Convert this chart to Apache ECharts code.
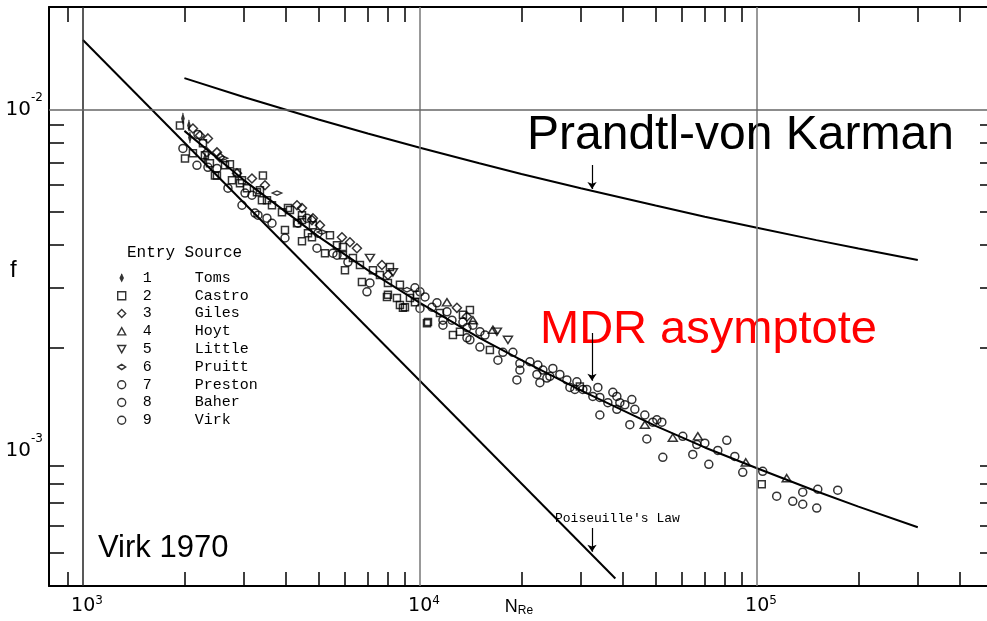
<!DOCTYPE html>
<html>
<head>
<meta charset="utf-8">
<script src="https://cdn.jsdelivr.net/npm/echarts@6/dist/echarts.min.js"></script>
<style>
html, body { margin: 0; padding: 0; background: #fff; }
#chart { width: 987px; height: 621px; }
</style>
</head>
<body>
<div id="chart"></div>
<script>
// ---- axis ticks (Reynolds number and friction factor, both logarithmic) ----
const xMajorTicks = [1000, 10000, 100000];
const xMinorTicks = [900, 2000, 3000, 4000, 5000, 6000, 7000, 8000, 9000,
  20000, 30000, 40000, 50000, 60000, 70000, 80000, 90000, 200000, 300000, 400000];
const yMajorTicks = [0.01, 0.001];
const yMinorTicks = [0.009, 0.008, 0.007, 0.006, 0.005, 0.004, 0.003, 0.002,
  0.0009, 0.0008, 0.0007, 0.0006, 0.0005];

// ---- reference curves ----
const poiseuilleRe = [1000, 38000];
const poiseuilleF = [0.016, 0.000421];
const mdrRe = [2000, 3000, 5000, 7000, 10000, 15000, 20000, 30000, 50000, 70000, 100000, 150000, 200000, 300000];
const mdrF = [0.00866, 0.00621, 0.00424, 0.00338, 0.00271, 0.00214, 0.00184, 0.0015, 0.00118, 0.00102, 0.000886, 0.000759, 0.000684, 0.000595];
const pvkRe = [2000, 3000, 5000, 7000, 10000, 15000, 20000, 30000, 50000, 70000, 100000, 150000, 200000, 300000];
const pvkF = [0.01237, 0.01089, 0.00935, 0.00851, 0.00773, 0.00696, 0.00647, 0.00588, 0.00523, 0.00485, 0.0045, 0.00414, 0.00391, 0.00362];

// ---- pointer arrows: [Re, f start, f tip] ----
const arrowPvk = [32400, 0.00688, 0.00585];
const arrowMdr = [32400, 0.00221, 0.0016];
const arrowPoiseuille = [32400, 0.000592, 0.000504];

// ---- measured friction factors [Re, f] by source ----
const toms = [[1980, 0.00941], [2063, 0.00898], [2077, 0.00828], [2301, 0.00719]];
const castro = [[1940, 0.00898], [2008, 0.00719], [2381, 0.00696], [2270, 0.00796], [2120, 0.00744], [2639, 0.00686],
  [2730, 0.00691], [2498, 0.00641], [3420, 0.00641], [2924, 0.00608], [3283, 0.00572], [3397, 0.00542], [3638, 0.00524],
  [3895, 0.005], [4058, 0.00514], [4466, 0.00474], [3976, 0.00443], [4466, 0.00411], [4781, 0.00422], [4652, 0.00434],
  [5407, 0.00428], [5226, 0.00379], [5672, 0.004], [5907, 0.00374], [6325, 0.00367], [5990, 0.00338], [6636, 0.0035],
  [7251, 0.00338], [6727, 0.00312], [7607, 0.00327], [8034, 0.0031], [8721, 0.00306], [8034, 0.00286], [8544, 0.0028],
  [8901, 0.00262], [8721, 0.00267], [9663, 0.00272], [10490, 0.00236], [11463, 0.00253], [13411, 0.0025], [9025, 0.00263],
  [10562, 0.00238], [12525, 0.00218], [13140, 0.00223], [16127, 0.00197], [29815, 0.00154], [7980, 0.00282], [103300, 0.000796],
  [2768, 0.0062], [2964, 0.0062], [3066, 0.00588], [3351, 0.0058], [3516, 0.00542], [4114, 0.00507], [4466, 0.0049],
  [4316, 0.00464], [4813, 0.00458], [5907, 0.00395], [8145, 0.00345], [2301, 0.00734], [2464, 0.00641], [2864, 0.00654],
  [14068, 0.00258], [9797, 0.00286], [9338, 0.0028]];
const giles = [[2120, 0.0088], [2349, 0.00823], [2224, 0.00839], [2333, 0.00749], [2498, 0.00749], [2550, 0.00724],
  [2864, 0.0065], [3173, 0.00628], [3468, 0.006], [4316, 0.00524], [4781, 0.00474], [4466, 0.00514], [4813, 0.0048],
  [5050, 0.00458], [5868, 0.00422], [6197, 0.00408], [6501, 0.00392], [7712, 0.0035], [12873, 0.00262], [13784, 0.00247],
  [8034, 0.00327]];
const hoyt = [[12024, 0.00272], [14358, 0.00241], [16459, 0.00226], [46474, 0.00119], [56255, 0.00109], [66750, 0.0011],
  [92620, 0.000922], [122500, 0.000829]];
const little = [[7105, 0.00367], [8313, 0.00333], [16917, 0.00223], [18240, 0.00211]];
const pruitt = [[2603, 0.0072], [3765, 0.00569], [5120, 0.00437], [9148, 0.00296]];
const preston = [[2194, 0.00845], [1980, 0.00769], [2179, 0.00686], [2349, 0.00677], [2693, 0.00588], [3026, 0.00569],
  [2964, 0.00524], [3239, 0.00497], [3515, 0.0048], [3976, 0.0042], [4345, 0.00464], [4947, 0.00392], [4981, 0.00434],
  [5518, 0.00379], [6113, 0.00357], [6961, 0.00292], [7105, 0.0031], [10000, 0.00292], [10348, 0.00282], [10000, 0.00261],
  [11230, 0.00271], [11700, 0.00241], [12441, 0.00241], [11700, 0.00233], [2498, 0.00672], [3173, 0.00561], [3306, 0.0049],
  [3638, 0.00464], [4621, 0.0048], [5672, 0.00374], [13411, 0.00238], [12024, 0.00255], [10854, 0.00263], [9663, 0.003]];
const baher = [[13784, 0.00229], [13784, 0.00214], [14068, 0.00211], [15062, 0.00201], [14358, 0.00233], [17033, 0.00184],
  [17623, 0.00194], [18868, 0.00194], [19793, 0.00172], [19793, 0.0018], [21192, 0.00182], [23160, 0.00172], [23800, 0.00163],
  [24292, 0.00165], [26010, 0.00167], [27280, 0.00161], [19390, 0.00161], [22690, 0.00158], [27850, 0.00153], [28820, 0.00151],
  [30430, 0.00151], [32580, 0.00144], [33720, 0.00153], [34180, 0.00143], [15062, 0.00223], [15590, 0.00218], [22380, 0.00178],
  [24790, 0.00174], [22230, 0.00167], [29210, 0.00159], [31270, 0.00151]];
const virk = [[36100, 0.00138], [38390, 0.00144], [39180, 0.00138], [40540, 0.00136], [42530, 0.00141], [43410, 0.00132],
  [34180, 0.00127], [38390, 0.00132], [46470, 0.00127], [49080, 0.00121], [52200, 0.00121], [41950, 0.00119], [47110, 0.00108],
  [60240, 0.0011], [70020, 0.00105], [66290, 0.00104], [52550, 0.000954], [64490, 0.000973], [71950, 0.00091], [76520, 0.001],
  [81360, 0.00107], [85930, 0.00096], [90730, 0.000862], [104000, 0.000868], [114400, 0.000734], [127700, 0.000709],
  [136700, 0.000695], [136700, 0.000754], [151500, 0.000769], [150400, 0.000677], [173600, 0.000764], [37350, 0.00148],
  [50450, 0.00123]];

const sources = [
  { name: 'Toms', data: toms, symbol: 'path://M5,0L5,16M5,2L8,8L5,14L2,8Z', size: [6.5, 11] },
  { name: 'Castro', data: castro, symbol: 'rect', size: 7 },
  { name: 'Giles', data: giles, symbol: 'diamond', size: 9 },
  { name: 'Hoyt', data: hoyt, symbol: 'path://M5,0L10,9L0,9Z', size: [9, 8] },
  { name: 'Little', data: little, symbol: 'path://M0,0L10,0L5,9Z', size: [9, 8] },
  { name: 'Pruitt', data: pruitt, symbol: 'path://M0,4L6,0L12,4L6,8Z', size: [9.5, 6.5] },
  { name: 'Preston', data: preston, symbol: 'circle', size: 8 },
  { name: 'Baher', data: baher, symbol: 'circle', size: 8 },
  { name: 'Virk', data: virk, symbol: 'circle', size: 8 }
];

const zip = (a, b) => a.map((v, i) => [v, b[i]]);
const FONT = '"Liberation Sans", Arial, sans-serif';
const TICKFONT = '"DejaVu Sans", sans-serif';
const MONO = '"Liberation Mono", "DejaVu Sans Mono", monospace';
const X_MIN = 793, X_MAX = 488000, Y_MIN = 0.0004, Y_MAX = 0.02;

const expLabel = v => '{b|10}{s|' + Math.round(Math.log10(v)) + '}';
const tickStyle = { color: '#000', width: 1.5 };
const xLabelRich = {
  b: { fontSize: 19, fontFamily: TICKFONT, color: '#000', lineHeight: 22 },
  s: { fontSize: 12, fontFamily: TICKFONT, color: '#000', lineHeight: 9, verticalAlign: 'top' }
};
const yLabelRich = {
  b: { fontSize: 20, fontFamily: TICKFONT, color: '#000', lineHeight: 36 },
  s: { fontSize: 12, fontFamily: TICKFONT, color: '#000', lineHeight: 10, verticalAlign: 'top' }
};

const chart = echarts.init(document.getElementById('chart'), null, { renderer: 'canvas' });

const scatterSeries = sources.map(s => ({
  name: s.name,
  type: 'scatter',
  xAxisIndex: 0,
  yAxisIndex: 0,
  symbol: s.symbol,
  symbolSize: s.size,
  symbolKeepAspect: true,
  data: s.data,
  itemStyle: { color: 'rgba(255,255,255,0)', borderColor: '#000', borderWidth: 1.5 },
  emphasis: { disabled: true },
  z: 4
}));

const curve = (name, data) => ({
  name, type: 'line', data, showSymbol: false, symbol: 'none',
  lineStyle: { color: '#000', width: 2 }, emphasis: { disabled: true }, z: 3
});

const pvkSeries = curve('Prandtl-von Karman', zip(pvkRe, pvkF));
pvkSeries.markLine = {
  silent: true, symbol: 'none', label: { show: false }, animation: false,
  data: [
    { xAxis: 1000, lineStyle: { color: '#222', width: 1.5, type: 'solid' } },
    { xAxis: 10000, lineStyle: { color: '#777', width: 1.5, type: 'solid' } },
    { xAxis: 100000, lineStyle: { color: '#777', width: 1.5, type: 'solid' } },
    { yAxis: 0.01, lineStyle: { color: '#666', width: 1.5, type: 'solid' } },
    { yAxis: 0.001, lineStyle: { color: '#666', width: 1.5, type: 'solid' } }
  ]
};

const arrows = [arrowPvk, arrowMdr, arrowPoiseuille].map(a => ({ coords: [[a[0], a[1]], [a[0], a[2]]] }));

chart.setOption({
  animation: false,
  backgroundColor: '#fff',
  grid: { left: 49, right: -2, top: 7, bottom: 35, outerBoundsMode: 'none', containLabel: false },
  xAxis: [
    {
      type: 'log', logBase: 10, min: X_MIN, max: X_MAX, position: 'bottom',
      name: '{n|N}{sub|Re}', nameLocation: 'middle', nameGap: 11, nameMoveOverlap: false,
      nameTextStyle: {
        padding: [0, 0, 0, 0],
        rich: {
          n: { fontSize: 18, fontFamily: FONT, color: '#000', lineHeight: 20 },
          sub: { fontSize: 12, fontFamily: FONT, color: '#000', lineHeight: 10, verticalAlign: 'bottom' }
        }
      },
      axisLine: { show: true, lineStyle: { color: '#000', width: 2 } },
      axisTick: { show: true, inside: true, length: 14, customValues: xMinorTicks, lineStyle: tickStyle },
      axisLabel: { show: true, customValues: xMajorTicks, formatter: expLabel, margin: 9,
        padding: [0, 0, 0, 8], rich: xLabelRich },
      splitLine: { show: false }, minorTick: { show: false }
    },
    {
      type: 'log', logBase: 10, min: X_MIN, max: X_MAX, position: 'top',
      axisLine: { show: true, lineStyle: { color: '#000', width: 2 } },
      axisTick: { show: true, inside: true, length: 15, customValues: xMinorTicks, lineStyle: tickStyle },
      axisLabel: { show: false }, splitLine: { show: false }
    }
  ],
  yAxis: [
    {
      type: 'log', logBase: 10, min: Y_MIN, max: Y_MAX, position: 'left',
      axisLine: { show: true, lineStyle: { color: '#000', width: 2 } },
      axisTick: { show: true, inside: true, length: 15, customValues: yMinorTicks, lineStyle: tickStyle },
      axisLabel: { show: true, customValues: yMajorTicks, formatter: expLabel, margin: 6, rich: yLabelRich },
      splitLine: { show: false }
    },
    {
      type: 'log', logBase: 10, min: Y_MIN, max: Y_MAX, position: 'right',
      axisLine: { show: true, lineStyle: { color: '#000', width: 2 } },
      axisTick: { show: true, inside: true, length: 9, customValues: yMinorTicks, lineStyle: tickStyle },
      axisLabel: { show: false }, splitLine: { show: false }
    }
  ],
  legend: {
    orient: 'vertical', left: 112, top: 264, itemGap: 0,
    itemWidth: 8, itemHeight: 8, selectedMode: false, symbolKeepAspect: true,
    data: sources.map(s => s.name),
    itemStyle: { borderColor: '#000', borderWidth: 1.4, color: 'rgba(255,255,255,0)' },
    formatter: name => '{n|' + (sources.findIndex(s => s.name === name) + 1) + '}{s|' + name + '}',
    textStyle: {
      fontFamily: MONO, fontSize: 15, color: '#000', lineHeight: 17.8,
      rich: {
        n: { width: 52, padding: [0, 0, 0, 12], fontFamily: MONO, fontSize: 15, color: '#000', lineHeight: 17.8 },
        s: { fontFamily: MONO, fontSize: 15, color: '#000', lineHeight: 17.8 }
      }
    }
  },
  series: [
    curve('Poiseuille', zip(poiseuilleRe, poiseuilleF)),
    curve('MDR', zip(mdrRe, mdrF)),
    pvkSeries,
    {
      name: 'pointers', type: 'lines', coordinateSystem: 'cartesian2d',
      data: arrows, symbol: ['none', 'arrow'], symbolSize: 7,
      lineStyle: { color: '#000', width: 1.2, opacity: 1 }, silent: true, z: 5
    },
    ...scatterSeries
  ],
  graphic: [
    { type: 'text', left: 527, top: 112, silent: true,
      style: { text: 'Prandtl-von Karman', font: '48px ' + FONT, fill: '#000' } },
    { type: 'text', left: 540, top: 307, silent: true,
      style: { text: 'MDR asymptote', font: '47px ' + FONT, fill: '#ff0000' } },
    { type: 'text', left: 98, top: 533, silent: true,
      style: { text: 'Virk 1970', font: '31px ' + FONT, fill: '#000' } },
    { type: 'text', left: 555, top: 512, silent: true,
      style: { text: "Poiseuille's Law", font: '13px ' + MONO, fill: '#000' } },
    { type: 'text', left: 127, top: 245, silent: true,
      style: { text: 'Entry Source', font: '16px ' + MONO, fill: '#000' } },
    { type: 'text', left: 10, top: 258, silent: true,
      style: { text: 'f', font: '24px ' + FONT, fill: '#000' } }
  ]
});
</script>
</body>
</html>
